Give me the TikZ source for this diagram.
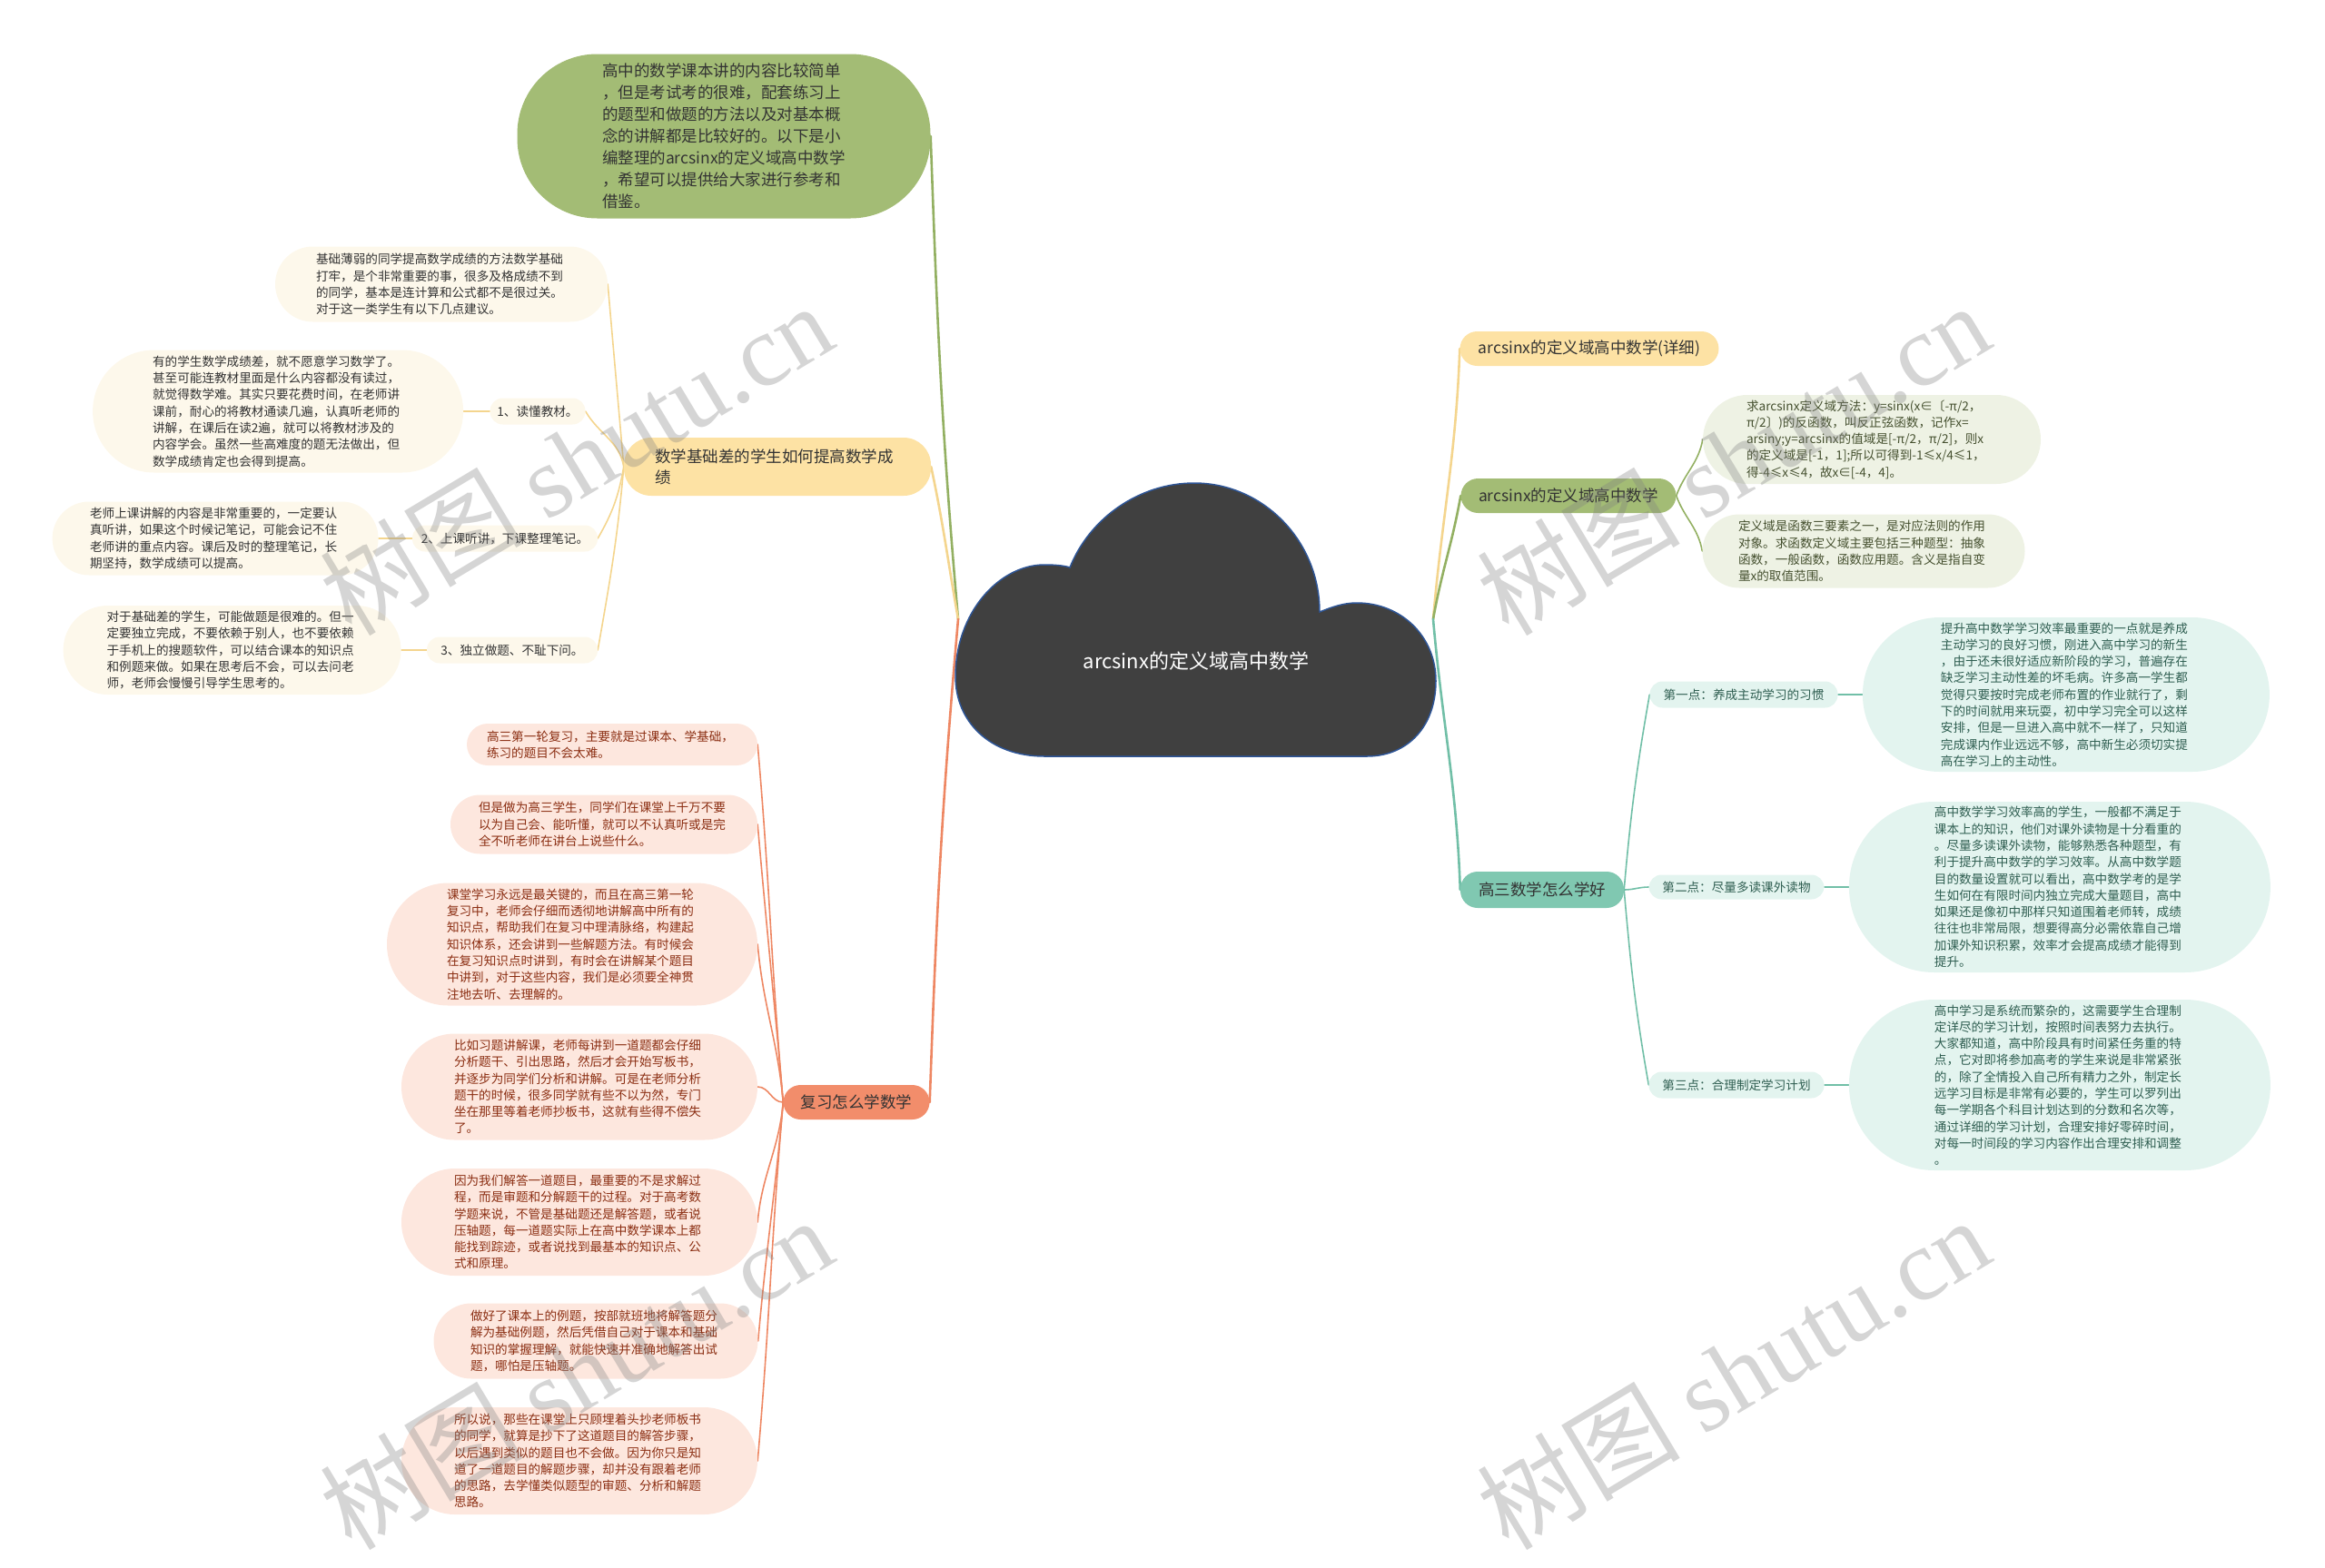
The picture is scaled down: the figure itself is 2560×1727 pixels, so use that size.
\documentclass[tikz,border=0pt]{standalone}
\usepackage{fontspec}
\setmainfont{Noto Sans CJK SC}
\newfontfamily\wmlatin{Liberation Serif}
\usetikzlibrary{positioning, backgrounds}
\usepackage{xcolor}
\definecolor{MapText}{HTML}{333333}
\definecolor{CloudFill}{HTML}{404040}
\definecolor{CloudEdge}{HTML}{2E5596}
\definecolor{MapGreen}{HTML}{A3BC75}
\definecolor{GreenLine}{HTML}{93B062}
\definecolor{GreenLeaf}{HTML}{EEF2E4}
\definecolor{GreenText}{HTML}{45502F}
\definecolor{YellowTopic}{HTML}{FDE2A4}
\definecolor{YellowLine}{HTML}{F4D58E}
\definecolor{YellowLeaf}{HTML}{FDF8EB}
\definecolor{TealTopic}{HTML}{80C8B1}
\definecolor{TealLine}{HTML}{71BFA7}
\definecolor{TealLeaf}{HTML}{E3F4EF}
\definecolor{TealText}{HTML}{2F5E51}
\definecolor{OrangeTopic}{HTML}{F28D6B}
\definecolor{OrangeLine}{HTML}{EE8763}
\definecolor{OrangeLeaf}{HTML}{FDE7DE}
\definecolor{OrangeText}{HTML}{8B2E12}
\tikzset{
    % Box styles - pill shaped
    rootnode/.style={
        text=white,
        font=\fontsize{22}{26}\selectfont
    },
    intro/.style={
        rectangle,
        rounded corners=88pt,
        fill=MapGreen,
        text=MapText,
        minimum width=455pt,
        minimum height=181pt,
        text width=268pt,
        align=left,
        font=\fontsize{17.5}{24}\selectfont
    },
    topic/.style={
        rectangle,
        rounded corners=19pt,
        minimum height=38pt,
        inner sep=3pt,
        align=center,
        text=MapText,
        font=\fontsize{17.5}{23}\selectfont
    },
    label/.style={
        rectangle,
        rounded corners=14pt,
        minimum height=29pt,
        inner sep=3pt,
        align=center,
        font=\fontsize{13.6}{18}\selectfont
    },
    leaf/.style={
        rectangle,
        inner sep=3pt,
        text width=276pt,
        align=left,
        font=\fontsize{13.6}{18.3}\selectfont
    },
    size/.style 2 args={
        minimum width=#1,
        minimum height=#2,
        rounded corners={#2*0.5}
    },
    yleaf/.style={leaf, fill=YellowLeaf, text=MapText},
    gleaf/.style={leaf, fill=GreenLeaf, text=GreenText},
    tleaf/.style={leaf, fill=TealLeaf, text=TealText},
    oleaf/.style={leaf, fill=OrangeLeaf, text=OrangeText},
    watermark/.style={
        rotate=31,
        text=gray,
        text opacity=0.33,
        font=\fontsize{112}{116}\selectfont
    },
    % Connector styles - tapered look
    branch/.style={line width=2.6pt, line cap=round},
    twig/.style={line width=1.6pt, line cap=round}
}

\begin{document}
\begin{tikzpicture}[x=1pt, y=1pt]
    \useasboundingbox (0,0) rectangle (2560,-1727);

    % Centre cloud
    \filldraw[fill=CloudFill, draw=CloudEdge, line width=1.5pt]
        (1150,-833) .. controls (1090,-833) and (1052,-795) .. (1052,-745)
        .. controls (1052,-675) and (1100,-622) .. (1150,-622)
        .. controls (1162,-622) and (1172,-623) .. (1178,-625)
        .. controls (1200,-570) and (1255,-532) .. (1315,-532)
        .. controls (1390,-532) and (1453,-595) .. (1453,-674)
        .. controls (1468,-668) and (1480,-664) .. (1494,-664)
        .. controls (1542,-664) and (1581,-700) .. (1581,-750)
        .. controls (1581,-800) and (1550,-833) .. (1505,-833)
        -- cycle;
    \node[rootnode] (root) at (1317,-728) {arcsinx的定义域高中数学};
    \coordinate (rootL) at (1055,-682);
    \coordinate (rootR) at (1578,-682);

    % Left: introduction
    \node[intro] (intro) at (797,-150) {高中的数学课本讲的内容比较简单\\，但是考试考的很难，配套练习上\\的题型和做题的方法以及对基本概\\念的讲解都是比较好的。以下是小\\编整理的arcsinx的定义域高中数学\\，希望可以提供给大家进行参考和\\借鉴。};

    % Left: weak basics branch
    \node[topic, fill=YellowTopic, minimum width=338pt, minimum height=64pt, rounded corners=30pt, text width=270pt, align=left] (basics) at (856,-514) {数学基础差的学生如何提高数学成\\绩};
    \node[yleaf, size={366pt}{83pt}] (advice) at (486,-313) {基础薄弱的同学提高数学成绩的方法数学基础\\打牢，是个非常重要的事，很多及格成绩不到\\的同学，基本是连计算和公式都不是很过关。\\对于这一类学生有以下几点建议。};
    \node[label, fill=YellowLeaf, text=MapText, minimum width=105pt] (read) at (592,-453) {1、读懂教材。};
    \node[yleaf, size={408pt}{135pt}, left=29pt of read] (readtext) {有的学生数学成绩差，就不愿意学习数学了。\\甚至可能连教材里面是什么内容都没有读过，\\就觉得数学难。其实只要花费时间，在老师讲\\课前，耐心的将教材通读几遍，认真听老师的\\讲解，在课后在读2遍，就可以将教材涉及的\\内容学会。虽然一些高难度的题无法做出，但\\数学成绩肯定也会得到提高。};
    \node[label, fill=YellowLeaf, text=MapText, minimum width=204pt] (listen) at (556,-593) {2、上课听讲，下课整理笔记。};
    \node[yleaf, size={359pt}{81pt}, left=37pt of listen] (listentext) {老师上课讲解的内容是非常重要的，一定要认\\真听讲，如果这个时候记笔记，可能会记不住\\老师讲的重点内容。课后及时的整理笔记，长\\期坚持，数学成绩可以提高。};
    \node[label, fill=YellowLeaf, text=MapText, minimum width=188pt] (solo) at (564,-716) {3、独立做题、不耻下问。};
    \node[yleaf, size={372pt}{98pt}, left=28pt of solo] (solotext) {对于基础差的学生，可能做题是很难的。但一\\定要独立完成，不要依赖于别人，也不要依赖\\于手机上的搜题软件，可以结合课本的知识点\\和例题来做。如果在思考后不会，可以去问老\\师，老师会慢慢引导学生思考的。};

    % Left: review branch
    \node[topic, fill=OrangeTopic, minimum width=161pt] (review) at (943,-1214) {复习怎么学数学};
    \node[oleaf, size={320pt}{46pt}] (rev1) at (674,-820) {高三第一轮复习，主要就是过课本、学基础，\\练习的题目不会太难。};
    \node[oleaf, size={338pt}{65pt}] (rev2) at (665,-908) {但是做为高三学生，同学们在课堂上千万不要\\以为自己会、能听懂，就可以不认真听或是完\\全不听老师在讲台上说些什么。};
    \node[oleaf, size={408pt}{135pt}] (rev3) at (630,-1040) {课堂学习永远是最关键的，而且在高三第一轮\\复习中，老师会仔细而透彻地讲解高中所有的\\知识点，帮助我们在复习中理清脉络，构建起\\知识体系，还会讲到一些解题方法。有时候会\\在复习知识点时讲到，有时会在讲解某个题目\\中讲到，对于这些内容，我们是必须要全神贯\\注地去听、去理解的。};
    \node[oleaf, size={392pt}{117pt}] (rev4) at (638,-1197) {比如习题讲解课，老师每讲到一道题都会仔细\\分析题干、引出思路，然后才会开始写板书，\\并逐步为同学们分析和讲解。可是在老师分析\\题干的时候，很多同学就有些不以为然，专门\\坐在那里等着老师抄板书，这就有些得不偿失\\了。};
    \node[oleaf, size={392pt}{118pt}] (rev5) at (638,-1346) {因为我们解答一道题目，最重要的不是求解过\\程，而是审题和分解题干的过程。对于高考数\\学题来说，不管是基础题还是解答题，或者说\\压轴题，每一道题实际上在高中数学课本上都\\能找到踪迹，或者说找到最基本的知识点、公\\式和原理。};
    \node[oleaf, size={357pt}{83pt}] (rev6) at (656,-1477) {做好了课本上的例题，按部就班地将解答题分\\解为基础例题，然后凭借自己对于课本和基础\\知识的掌握理解，就能快速并准确地解答出试\\题，哪怕是压轴题。};
    \node[oleaf, size={392pt}{118pt}] (rev7) at (638,-1609) {所以说，那些在课堂上只顾埋着头抄老师板书\\的同学，就算是抄下了这道题目的解答步骤，\\以后遇到类似的题目也不会做。因为你只是知\\道了一道题目的解题步骤，却并没有跟着老师\\的思路，去学懂类似题型的审题、分析和解题\\思路。};

    % Right: detail and definition branches
    \node[topic, fill=YellowTopic, minimum width=285pt] (detail) at (1750,-384) {arcsinx的定义域高中数学(详细)};
    \node[topic, fill=MapGreen, minimum width=237pt] (domain) at (1727,-546) {arcsinx的定义域高中数学};
    \node[gleaf, size={372pt}{98pt}] (method) at (2061,-484) {求arcsinx定义域方法：y=sinx(x∈〔-π/2，\\π/2〕)的反函数，叫反正弦函数，记作x=\\arsiny;y=arcsinx的值域是[-π/2，π/2]，则x\\的定义域是[-1，1];所以可得到-1≤x/4≤1，\\得-4≤x≤4，故x∈[-4，4]。};
    \node[gleaf, size={355pt}{81pt}] (meaning) at (2052,-607) {定义域是函数三要素之一，是对应法则的作用\\对象。求函数定义域主要包括三种题型：抽象\\函数，一般函数，函数应用题。含义是指自变\\量x的取值范围。};

    % Right: study habits branch
    \node[topic, fill=TealTopic, minimum width=180pt, minimum height=40pt] (habits) at (1698,-980) {高三数学怎么学好};
    \node[label, fill=TealLeaf, text=TealText, minimum width=207pt] (point1) at (1920,-765) {第一点：养成主动学习的习惯};
    \node[tleaf, size={448pt}{170pt}, right=27pt of point1] (point1text) {提升高中数学学习效率最重要的一点就是养成\\主动学习的良好习惯，刚进入高中学习的新生\\，由于还未很好适应新阶段的学习，普遍存在\\缺乏学习主动性差的坏毛病。许多高一学生都\\觉得只要按时完成老师布置的作业就行了，剩\\下的时间就用来玩耍，初中学习完全可以这样\\安排，但是一旦进入高中就不一样了，只知道\\完成课内作业远远不够，高中新生必须切实提\\高在学习上的主动性。};
    \node[label, fill=TealLeaf, text=TealText, minimum width=193pt, minimum height=27pt] (point2) at (1912,-977) {第二点：尽量多读课外读物};
    \node[tleaf, size={464pt}{188pt}, right=27pt of point2] (point2text) {高中数学学习效率高的学生，一般都不满足于\\课本上的知识，他们对课外读物是十分看重的\\。尽量多读课外读物，能够熟悉各种题型，有\\利于提升高中数学的学习效率。从高中数学题\\目的数量设置就可以看出，高中数学考的是学\\生如何在有限时间内独立完成大量题目，高中\\如果还是像初中那样只知道围着老师转，成绩\\往往也非常局限，想要得高分必需依靠自己增\\加课外知识积累，效率才会提高成绩才能得到\\提升。};
    \node[label, fill=TealLeaf, text=TealText, minimum width=193pt] (point3) at (1912,-1195) {第三点：合理制定学习计划};
    \node[tleaf, size={464pt}{188pt}, right=27pt of point3] (point3text) {高中学习是系统而繁杂的，这需要学生合理制\\定详尽的学习计划，按照时间表努力去执行。\\大家都知道，高中阶段具有时间紧任务重的特\\点，它对即将参加高考的学生来说是非常紧张\\的，除了全情投入自己所有精力之外，制定长\\远学习目标是非常有必要的，学生可以罗列出\\每一学期各个科目计划达到的分数和名次等，\\通过详细的学习计划，合理安排好零碎时间，\\对每一时间段的学习内容作出合理安排和调整\\。};

    % Connectors
    \begin{scope}[on background layer]
        \draw[branch, GreenLine] (rootL) to[out=95, in=-88] (intro.east);
        \draw[branch, YellowLine] (rootL) to[out=100, in=-78] (basics.east);
        \draw[branch, OrangeLine] (rootL) to[out=-95, in=88] (review.east);
        \draw[branch, YellowLine] (rootR) to[out=85, in=-92] (detail.west);
        \draw[branch, GreenLine] (rootR) to[out=80, in=-100] (domain.west);
        \draw[branch, TealLine] (rootR) to[out=-85, in=92] (habits.west);

        \draw[twig, YellowLine] (basics.west) to[out=95, in=-85] (advice.east);
        \draw[twig, YellowLine] (basics.west) to[out=100, in=-60] (read.east);
        \draw[twig, YellowLine] (basics.west) to[out=-100, in=60] (listen.east);
        \draw[twig, YellowLine] (basics.west) to[out=-95, in=80] (solo.east);
        \draw[twig, YellowLine] (readtext) -- (read);
        \draw[twig, YellowLine] (listentext) -- (listen);
        \draw[twig, YellowLine] (solotext) -- (solo);

        \foreach \r in {rev1, rev2, rev3}
            \draw[twig, OrangeLine] (review.west) to[out=95, in=-85] (\r.east);
        \draw[twig, OrangeLine] (review.west) to[out=180, in=0] (rev4.east);
        \foreach \r in {rev5, rev6, rev7}
            \draw[twig, OrangeLine] (review.west) to[out=-95, in=85] (\r.east);

        \draw[twig, GreenLine] (domain.east) to[out=70, in=-100] (method.west);
        \draw[twig, GreenLine] (domain.east) to[out=-70, in=100] (meaning.west);

        \draw[twig, TealLine] (habits.east) to[out=85, in=-100] (point1.west);
        \draw[twig, TealLine] (habits.east) to[out=0, in=180] (point2.west);
        \draw[twig, TealLine] (habits.east) to[out=-85, in=100] (point3.west);
        \draw[twig, TealLine] (point1) -- (point1text);
        \draw[twig, TealLine] (point2) -- (point2text);
        \draw[twig, TealLine] (point3) -- (point3text);
    \end{scope}

    % Watermarks
    \node[watermark] (wmA) at (634,-505) {树图 {\wmlatin shutu.cn}};
    \node[watermark] (wmB) at (1908,-505) {树图 {\wmlatin shutu.cn}};
    \node[watermark] (wmC) at (634,-1512) {树图 {\wmlatin shutu.cn}};
    \node[watermark] (wmD) at (1908,-1512) {树图 {\wmlatin shutu.cn}};
\end{tikzpicture}
\end{document}
